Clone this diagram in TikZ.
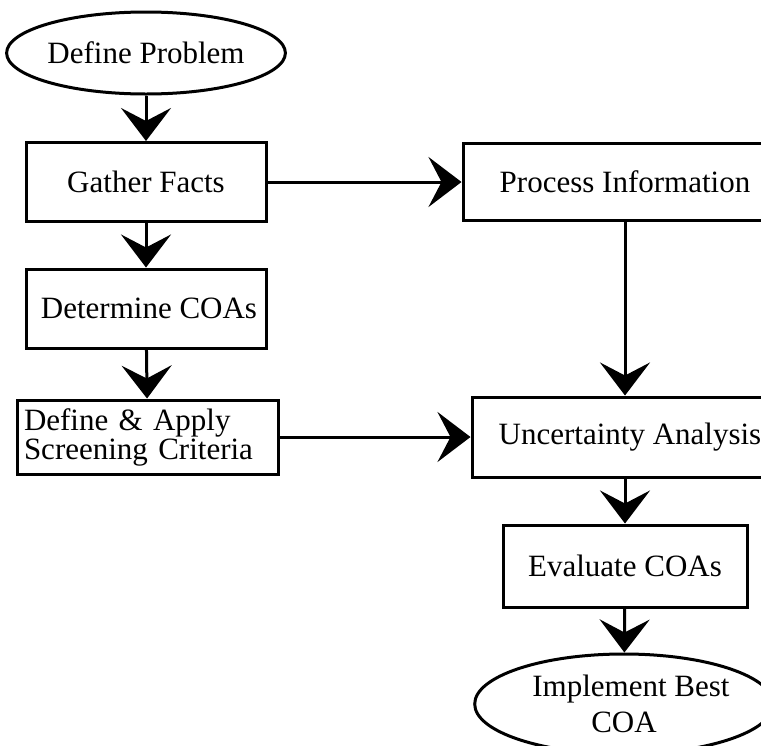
\documentclass[tikz,border=0pt]{standalone}
\usepackage{fontspec}
\setmainfont{Liberation Serif}
\usetikzlibrary{arrows.meta,shapes.geometric}
\begin{document}
\begin{tikzpicture}[x=1pt,y=-1pt,
  every node/.style={font=\fontsize{31}{30}\selectfont},
  box/.style={draw,line width=3pt,rectangle,inner sep=0pt},
  oval/.style={draw,line width=3pt,ellipse,inner sep=0pt},
  arr/.style={line width=3pt,-{Stealth[length=33pt,width=50pt,inset=13pt]}}]
\useasboundingbox (0,0) rectangle (761,745);
\clip (0,0) rectangle (761,745);
\node[oval,minimum width=272pt,minimum height=82pt] (dp) at (146,53) {Define Problem};
\node[box,minimum width=240pt,minimum height=79pt] (gf) at (146,182) {Gather Facts};
\node[box,minimum width=240pt,minimum height=79pt] (dc) at (146,308.5) {\hspace*{6pt}Determine COAs};
\node[box,minimum width=261pt,minimum height=74pt,text width=247pt,align=left,
  font=\fontsize{31}{29}\selectfont] (da) at (147.5,437)
  {Define \& Apply\\Screening Criteria};
\node[box,minimum width=324pt,minimum height=77pt] (pi) at (625,182) {Process Information};
\node[box,minimum width=306pt,minimum height=80pt] (ua) at (625,437) {\hspace*{10pt}Uncertainty Analysis};
\node[box,minimum width=244pt,minimum height=82pt] (ec) at (625,566) {Evaluate COAs};
\node[oval,minimum width=271pt,minimum height=100pt,align=center,
  font=\fontsize{31}{36}\selectfont] (ib) at (624,704)
  {\hspace*{14pt}Implement Best\\COA};
\draw[arr] (dp) -- (gf);
\draw[arr] (gf) -- (dc);
\draw[arr] (dc) -- (da);
\draw[arr] (gf) -- (pi);
\draw[arr] (pi) -- (ua);
\draw[arr] (da) -- (ua);
\draw[arr] (ua) -- (ec);
\draw[arr] (ec) -- (ib);
\end{tikzpicture}
\end{document}
